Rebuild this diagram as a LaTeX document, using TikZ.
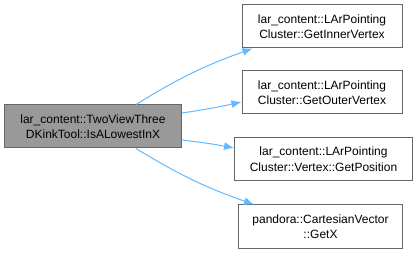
\documentclass[tikz,border=0pt]{standalone}
\usepackage{fontspec}
\setmainfont{Liberation Sans}
\usetikzlibrary{arrows.meta}

\definecolor{edgeblue}{HTML}{63B8FF}
\definecolor{boxline}{HTML}{666666}
\definecolor{mainfill}{HTML}{999999}

\tikzset{
    fn/.style={draw=boxline, fill=white, line width=1pt, align=center,
        font=\fontsize{12}{15.5}\selectfont, inner sep=0pt},
    mainfn/.style={fn, fill=mainfill},
    call/.style={draw=edgeblue, line width=1pt, -{Latex[length=10pt,width=8pt]}}
}

\begin{document}
\begin{tikzpicture}[x=1pt, y=-1pt]
    \useasboundingbox (0,0) rectangle (419,253);

    \node[mainfn, minimum width=177pt, minimum height=43pt] (lowest) at (93,126.5) {lar\_content::TwoViewThree\\DKinkTool::IsALowestInX};

    \node[fn, minimum width=160pt, minimum height=43pt] (inner) at (322,26.5) {lar\_content::LArPointing\\Cluster::GetInnerVertex};
    \node[fn, minimum width=160pt, minimum height=43pt] (outer) at (322,92.5) {lar\_content::LArPointing\\Cluster::GetOuterVertex};
    \node[fn, minimum width=178pt, minimum height=43pt] (position) at (323.5,159) {lar\_content::LArPointing\\Cluster::Vertex::GetPosition};
    \node[fn, minimum width=164pt, minimum height=43pt] (getx) at (320.5,226.5) {pandora::CartesianVector\\::GetX};

    \draw[call] ([xshift=-46pt]lowest.north east) to[bend left=6] ([xshift=-150pt]inner.south east);
    \draw[call] ([yshift=13.5pt]lowest.east) to[bend right=2] ([yshift=-9.5pt]outer.west);
    \draw[call] ([yshift=-13.5pt]lowest.east) to[bend left=2] ([yshift=11pt]position.west);
    \draw[call] ([xshift=-46pt]lowest.south east) to[bend right=6] ([xshift=-149pt]getx.north east);
\end{tikzpicture}
\end{document}
